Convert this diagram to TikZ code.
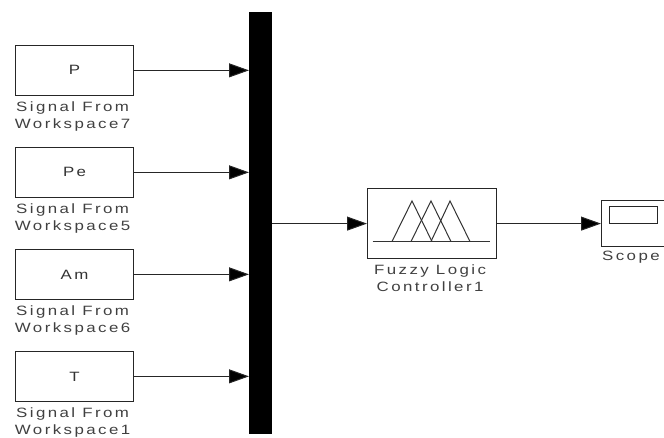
\documentclass[tikz,border=0pt]{standalone}
\usepackage{fontspec}
\setmainfont[LetterSpace=18,FakeStretch=1.25]{Liberation Sans}
\usetikzlibrary{arrows.meta}
\tikzset{
  blk/.style={draw=black!85,line width=1.2pt,fill=white,anchor=north west,inner sep=0pt,font=\fontsize{13.5}{16}\selectfont,text=black!80},
  cap1/.style={anchor=north,align=center,inner sep=0pt,font=\fontsize{13.5}{17}\selectfont,text=black!75},
  wire/.style={draw=black!85,line width=1pt,-{Triangle[length=20pt,width=14pt,fill=black]}},
  glyph/.style={draw=black!80,line width=1pt}
}
\begin{document}
\begin{tikzpicture}[x=1pt,y=-1pt]
\useasboundingbox (0,0) rectangle (664,437);
\node[fill=black,anchor=north west,minimum width=23pt,minimum height=422pt,inner sep=0pt] (bar) at (249,12) {};
\foreach \n/\t/\y/\l in {p/P/45/Workspace7,pe/Pe/147/Workspace5,am/Am/249/Workspace6,tt/T/351/Workspace1}{
  \node[blk,minimum width=118pt,minimum height=49.5pt] (\n) at (15,\y) {\t};
  \node[cap1] (\n c) at ([yshift=-5.5pt,xshift=-2pt]\n.south) {Signal From\\\l};
  \draw[wire] (\n.east) -- (bar.west |- \n.east);
}
\node[blk,minimum width=129pt,minimum height=70pt] (fz) at (367,188) {};
\coordinate (bout) at (bar.east |- fz.west);
\draw[wire] (bout) -- (fz.west);
\node[cap1] (fzc) at ([yshift=-5.5pt,xshift=-2pt]fz.south) {Fuzzy Logic\\Controller1};
\node[blk,minimum width=70pt,minimum height=46pt] (sc) at (601,200) {};
\draw[wire] (fz.east) -- (sc.west |- fz.east);
\node[cap1,anchor=north west] (scc) at (602,250.5) {Scope};
\node[draw=black!85,line width=1.1pt,anchor=north west,minimum width=48pt,minimum height=17pt,inner sep=0pt] (scr) at (609,205.5) {};
\draw[glyph] (372.5,241.5) -- (490,241.5);
\draw[glyph] (392,241.5) -- (412,201) -- (432,241.5);
\draw[glyph] (411,241.5) -- (431,201) -- (451,241.5);
\draw[glyph] (431,241.5) -- (450,201) -- (470,241.5);
\end{tikzpicture}
\end{document}
